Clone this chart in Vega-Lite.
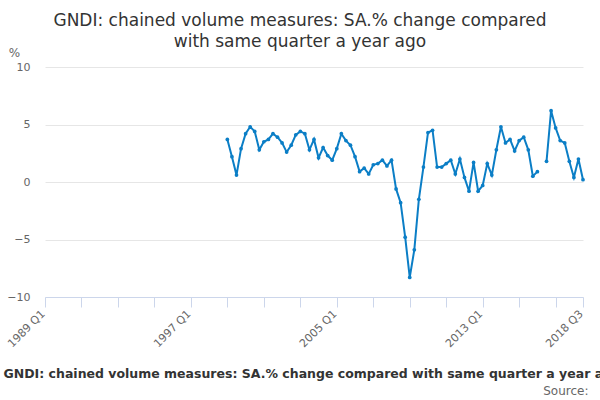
{
  "$schema": "https://vega.github.io/schema/vega-lite/v6.json",
  "width": 538,
  "height": 230,
  "autosize": {"type": "none"},
  "padding": {"left": 45, "top": 67, "right": 17, "bottom": 103},
  "config": {
    "font": "DejaVu Sans",
    "view": {"stroke": null}
  },
  "title": {
    "text": ["GNDI: chained volume measures: SA.% change compared", "with same quarter a year ago"],
    "fontSize": 17,
    "fontWeight": "normal",
    "color": "#333333",
    "anchor": "middle",
    "frame": "group",
    "dx": -14,
    "dy": 13,
    "offset": 8,
    "lineHeight": 21
  },
  "data": {
    "values": [
      {"quarter": "1999 Q1", "value": 3.7},
      {"quarter": "1999 Q2", "value": 2.2},
      {"quarter": "1999 Q3", "value": 0.6},
      {"quarter": "1999 Q4", "value": 2.9},
      {"quarter": "2000 Q1", "value": 4.2},
      {"quarter": "2000 Q2", "value": 4.8},
      {"quarter": "2000 Q3", "value": 4.4},
      {"quarter": "2000 Q4", "value": 2.8},
      {"quarter": "2001 Q1", "value": 3.5},
      {"quarter": "2001 Q2", "value": 3.7},
      {"quarter": "2001 Q3", "value": 4.2},
      {"quarter": "2001 Q4", "value": 3.9},
      {"quarter": "2002 Q1", "value": 3.4},
      {"quarter": "2002 Q2", "value": 2.6},
      {"quarter": "2002 Q3", "value": 3.2},
      {"quarter": "2002 Q4", "value": 4.1},
      {"quarter": "2003 Q1", "value": 4.4},
      {"quarter": "2003 Q2", "value": 4.2},
      {"quarter": "2003 Q3", "value": 2.8},
      {"quarter": "2003 Q4", "value": 3.7},
      {"quarter": "2004 Q1", "value": 2.1},
      {"quarter": "2004 Q2", "value": 3.0},
      {"quarter": "2004 Q3", "value": 2.3},
      {"quarter": "2004 Q4", "value": 1.9},
      {"quarter": "2005 Q1", "value": 2.9},
      {"quarter": "2005 Q2", "value": 4.2},
      {"quarter": "2005 Q3", "value": 3.6},
      {"quarter": "2005 Q4", "value": 3.2},
      {"quarter": "2006 Q1", "value": 2.2},
      {"quarter": "2006 Q2", "value": 0.9},
      {"quarter": "2006 Q3", "value": 1.2},
      {"quarter": "2006 Q4", "value": 0.7},
      {"quarter": "2007 Q1", "value": 1.5},
      {"quarter": "2007 Q2", "value": 1.6},
      {"quarter": "2007 Q3", "value": 1.9},
      {"quarter": "2007 Q4", "value": 1.4},
      {"quarter": "2008 Q1", "value": 1.9},
      {"quarter": "2008 Q2", "value": -0.6},
      {"quarter": "2008 Q3", "value": -1.8},
      {"quarter": "2008 Q4", "value": -4.8},
      {"quarter": "2009 Q1", "value": -8.3},
      {"quarter": "2009 Q2", "value": -5.9},
      {"quarter": "2009 Q3", "value": -1.5},
      {"quarter": "2009 Q4", "value": 1.3},
      {"quarter": "2010 Q1", "value": 4.3},
      {"quarter": "2010 Q2", "value": 4.5},
      {"quarter": "2010 Q3", "value": 1.3},
      {"quarter": "2010 Q4", "value": 1.3},
      {"quarter": "2011 Q1", "value": 1.6},
      {"quarter": "2011 Q2", "value": 1.9},
      {"quarter": "2011 Q3", "value": 0.7},
      {"quarter": "2011 Q4", "value": 2.0},
      {"quarter": "2012 Q1", "value": 0.4},
      {"quarter": "2012 Q2", "value": -0.8},
      {"quarter": "2012 Q3", "value": 1.7},
      {"quarter": "2012 Q4", "value": -0.8},
      {"quarter": "2013 Q1", "value": -0.3},
      {"quarter": "2013 Q2", "value": 1.6},
      {"quarter": "2013 Q3", "value": 0.6},
      {"quarter": "2013 Q4", "value": 2.8},
      {"quarter": "2014 Q1", "value": 4.8},
      {"quarter": "2014 Q2", "value": 3.4},
      {"quarter": "2014 Q3", "value": 3.7},
      {"quarter": "2014 Q4", "value": 2.7},
      {"quarter": "2015 Q1", "value": 3.6},
      {"quarter": "2015 Q2", "value": 3.9},
      {"quarter": "2015 Q3", "value": 2.8},
      {"quarter": "2015 Q4", "value": 0.5},
      {"quarter": "2016 Q1", "value": 0.9},
      {"quarter": "2016 Q2", "value": null},
      {"quarter": "2016 Q3", "value": 1.8},
      {"quarter": "2016 Q4", "value": 6.2},
      {"quarter": "2017 Q1", "value": 4.7},
      {"quarter": "2017 Q2", "value": 3.6},
      {"quarter": "2017 Q3", "value": 3.4},
      {"quarter": "2017 Q4", "value": 1.8},
      {"quarter": "2018 Q1", "value": 0.4},
      {"quarter": "2018 Q2", "value": 2.0},
      {"quarter": "2018 Q3", "value": 0.2}
    ]
  },
  "layer": [
    {
      "mark": {
        "type": "line",
        "color": "#0b7ec6",
        "strokeWidth": 2,
        "invalid": "break-paths-show-domains",
        "point": {"filled": true, "size": 14, "color": "#0b7ec6"}
      },
      "encoding": {
        "x": {
          "field": "quarter",
          "type": "ordinal",
          "sort": null,
          "scale": {
            "type": "point",
            "padding": 0,
            "domain": [
              "1989 Q1", "1989 Q2", "1989 Q3", "1989 Q4",
              "1990 Q1", "1990 Q2", "1990 Q3", "1990 Q4",
              "1991 Q1", "1991 Q2", "1991 Q3", "1991 Q4",
              "1992 Q1", "1992 Q2", "1992 Q3", "1992 Q4",
              "1993 Q1", "1993 Q2", "1993 Q3", "1993 Q4",
              "1994 Q1", "1994 Q2", "1994 Q3", "1994 Q4",
              "1995 Q1", "1995 Q2", "1995 Q3", "1995 Q4",
              "1996 Q1", "1996 Q2", "1996 Q3", "1996 Q4",
              "1997 Q1", "1997 Q2", "1997 Q3", "1997 Q4",
              "1998 Q1", "1998 Q2", "1998 Q3", "1998 Q4",
              "1999 Q1", "1999 Q2", "1999 Q3", "1999 Q4",
              "2000 Q1", "2000 Q2", "2000 Q3", "2000 Q4",
              "2001 Q1", "2001 Q2", "2001 Q3", "2001 Q4",
              "2002 Q1", "2002 Q2", "2002 Q3", "2002 Q4",
              "2003 Q1", "2003 Q2", "2003 Q3", "2003 Q4",
              "2004 Q1", "2004 Q2", "2004 Q3", "2004 Q4",
              "2005 Q1", "2005 Q2", "2005 Q3", "2005 Q4",
              "2006 Q1", "2006 Q2", "2006 Q3", "2006 Q4",
              "2007 Q1", "2007 Q2", "2007 Q3", "2007 Q4",
              "2008 Q1", "2008 Q2", "2008 Q3", "2008 Q4",
              "2009 Q1", "2009 Q2", "2009 Q3", "2009 Q4",
              "2010 Q1", "2010 Q2", "2010 Q3", "2010 Q4",
              "2011 Q1", "2011 Q2", "2011 Q3", "2011 Q4",
              "2012 Q1", "2012 Q2", "2012 Q3", "2012 Q4",
              "2013 Q1", "2013 Q2", "2013 Q3", "2013 Q4",
              "2014 Q1", "2014 Q2", "2014 Q3", "2014 Q4",
              "2015 Q1", "2015 Q2", "2015 Q3", "2015 Q4",
              "2016 Q1", "2016 Q2", "2016 Q3", "2016 Q4",
              "2017 Q1", "2017 Q2", "2017 Q3", "2017 Q4",
              "2018 Q1", "2018 Q2", "2018 Q3"
            ]
          },
          "axis": {
            "values": [
              "1989 Q1", "1991 Q1", "1993 Q1", "1995 Q1", "1997 Q1", "1999 Q1",
              "2001 Q1", "2003 Q1", "2005 Q1", "2007 Q1", "2009 Q1", "2011 Q1",
              "2013 Q1", "2015 Q1", "2017 Q1", "2018 Q3"
            ],
            "labelExpr": "datum.label == '1989 Q1' || datum.label == '1997 Q1' || datum.label == '2005 Q1' || datum.label == '2013 Q1' || datum.label == '2018 Q3' ? datum.label : ''",
            "labelAngle": -45,
            "labelAlign": "right",
            "labelBaseline": "middle",
            "labelFontSize": 11,
            "labelColor": "#666666",
            "labelOverlap": false,
            "labelBound": false,
            "labelFlush": false,
            "labelPadding": 5,
            "labelOffset": -2,
            "grid": false,
            "domainColor": "#ccd6eb",
            "tickColor": "#ccd6eb",
            "tickSize": 10,
            "title": "GNDI: chained volume measures: SA.% change compared with same quarter a year ago",
            "titleFontSize": 12.5,
            "titleFontWeight": "bold",
            "titleColor": "#333333",
            "titleAnchor": "start",
            "titleAlign": "left",
            "titleBaseline": "middle",
            "titleX": -42,
            "titleY": 76
          }
        },
        "y": {
          "field": "value",
          "type": "quantitative",
          "scale": {"domain": [-10, 10], "nice": false},
          "axis": {
            "values": [-10, -5, 0, 5, 10],
            "domain": false,
            "ticks": false,
            "gridColor": "#e6e6e6",
            "labelFontSize": 11,
            "labelColor": "#666666",
            "labelPadding": 15,
            "title": "%",
            "titleAngle": 0,
            "titleFontSize": 12,
            "titleFontWeight": "normal",
            "titleColor": "#666666",
            "titleAlign": "center",
            "titleBaseline": "middle",
            "titleX": -31,
            "titleY": -15
          }
        }
      }
    },
    {
      "mark": {"type": "line", "opacity": 0},
      "encoding": {
        "x": {"field": "quarter", "type": "ordinal", "sort": null},
        "y": {
          "field": "value",
          "type": "quantitative",
          "axis": {
            "orient": "right",
            "labels": false,
            "ticks": false,
            "domain": false,
            "grid": false,
            "title": "Source:",
            "titleAngle": 0,
            "titleFontSize": 12,
            "titleFontWeight": "normal",
            "titleColor": "#666666",
            "titleAlign": "right",
            "titleBaseline": "middle",
            "titleX": 5,
            "titleY": 323
          }
        }
      }
    }
  ],
  "resolve": {"scale": {"y": "independent"}}
}
